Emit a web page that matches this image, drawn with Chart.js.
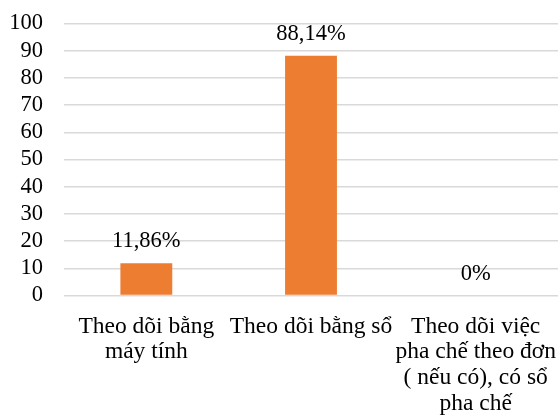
<!DOCTYPE html>
<html>
<head>
<meta charset="utf-8">
<script src="https://cdn.jsdelivr.net/npm/chart.js@4.4.1/dist/chart.umd.min.js"></script>
<style>
html,body{margin:0;padding:0;background:#fff;}
#wrap{width:560px;height:419px;position:relative;}
</style>
</head>
<body>
<div id="wrap"><canvas id="c"></canvas></div>
<script>
const categories = [
  ["Theo dõi bằng", "máy tính"],
  ["Theo dõi bằng sổ"],
  ["Theo dõi việc", "pha chế theo đơn", "( nếu có), có sổ", "pha chế"]
];
const values = [11.86, 88.14, 0];
const valueLabels = ["11,86%", "88,14%", "0%"];
const yTicks = [0, 10, 20, 30, 40, 50, 60, 70, 80, 90, 100];

const FONT = "'Liberation Serif', 'Times New Roman', serif";

const dataLabelPlugin = {
  id: 'dataLabels',
  afterDatasetsDraw(chart) {
    const ctx = chart.ctx;
    const meta = chart.getDatasetMeta(0);
    ctx.save();
    ctx.font = "22.5px " + FONT;
    ctx.fillStyle = "#000";
    ctx.textAlign = "center";
    ctx.textBaseline = "alphabetic";
    meta.data.forEach((bar, i) => {
      ctx.fillText(valueLabels[i], bar.x, bar.y - 16);
    });
    ctx.restore();
  }
};

new Chart(document.getElementById('c'), {
  type: 'bar',
  data: {
    labels: categories,
    datasets: [{
      data: values,
      backgroundColor: '#ED7D31',
      borderWidth: 0,
      barPercentage: 1,
      categoryPercentage: 0.315
    }]
  },
  options: {
    responsive: true,
    maintainAspectRatio: false,
    animation: false,
    layout: { padding: { top: 23.5, right: 2, bottom: 0, left: 0 } },
    plugins: { legend: { display: false }, tooltip: { enabled: false } },
    scales: {
      x: {
        afterFit(scale) {
          scale.paddingLeft = 0; scale.paddingRight = 0;
          scale.paddingTop = 0; scale.paddingBottom = 0;
          scale.height = 123.5;
        },
        grid: { display: false, drawTicks: false },
        border: { display: false },
        ticks: {
          color: '#000',
          font: { family: FONT, size: 23.5, lineHeight: 1.095 },
          maxRotation: 0, minRotation: 0,
          padding: 18,
          autoSkip: false
        }
      },
      y: {
        min: 0, max: 100,
        afterFit(scale) {
          scale.width = 64;
          scale.paddingTop = 0; scale.paddingBottom = 0;
          scale.paddingLeft = 0; scale.paddingRight = 0;
        },
        afterBuildTicks(scale) { scale.ticks = yTicks.map(v => ({ value: v })); },
        grid: { color: '#d9d9d9', lineWidth: 1.6, drawTicks: false },
        border: { display: false },
        ticks: {
          color: '#000',
          font: { family: FONT, size: 22.5 },
          padding: 21,
          autoSkip: false,
          stepSize: 10
        }
      }
    }
  },
  plugins: [dataLabelPlugin]
});
</script>
</body>
</html>
